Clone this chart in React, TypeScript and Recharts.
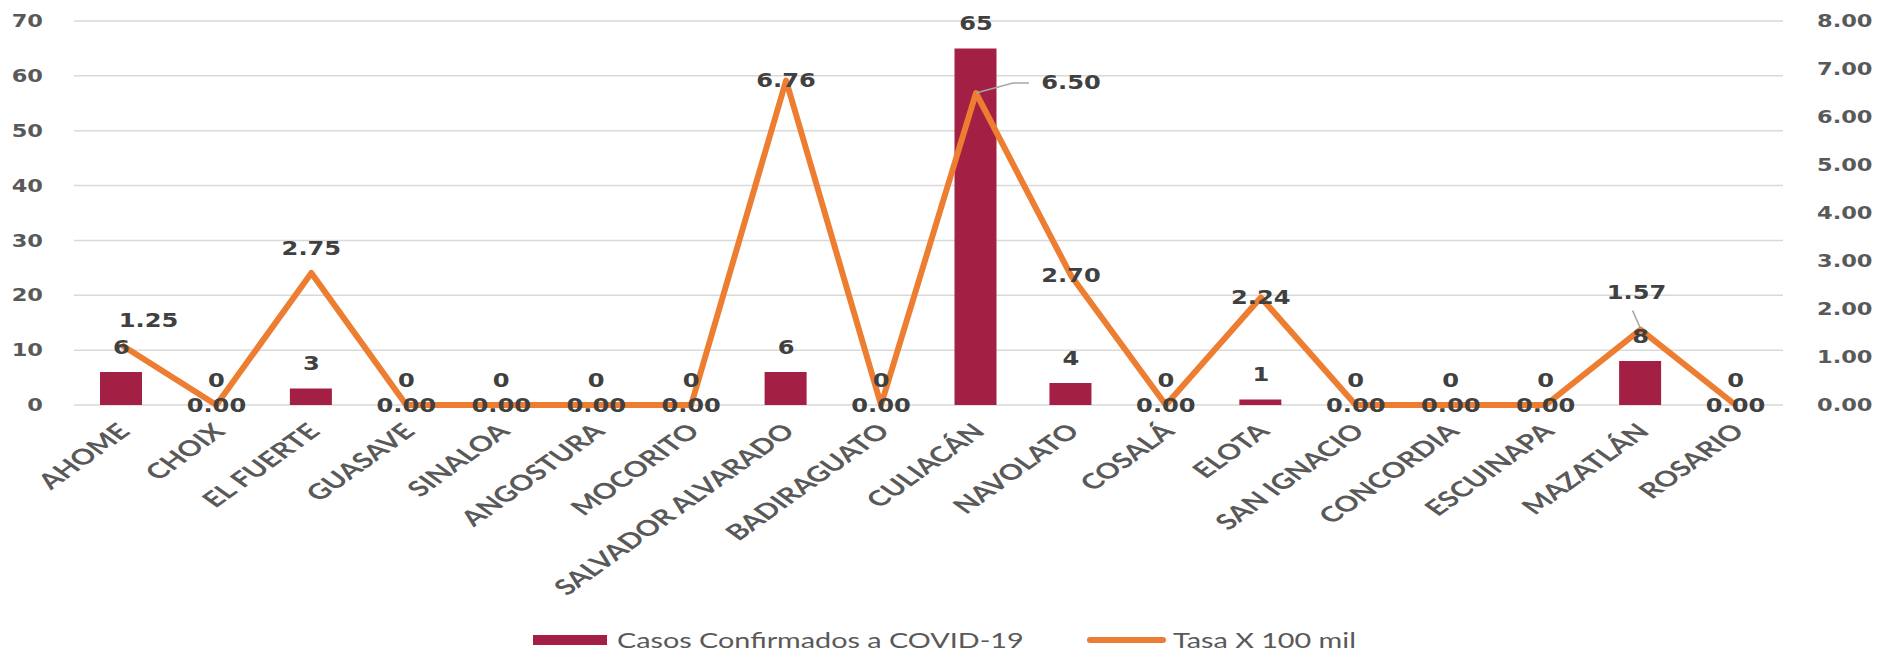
import { ComposedChart, Bar, Line, XAxis, YAxis, CartesianGrid, Legend, LabelList } from 'recharts';

const municipios = [
  'AHOME', 'CHOIX', 'EL FUERTE', 'GUASAVE', 'SINALOA', 'ANGOSTURA', 'MOCORITO',
  'SALVADOR ALVARADO', 'BADIRAGUATO', 'CULIACÁN', 'NAVOLATO', 'COSALÁ', 'ELOTA',
  'SAN IGNACIO', 'CONCORDIA', 'ESCUINAPA', 'MAZATLÁN', 'ROSARIO',
];
const casos = [6, 0, 3, 0, 0, 0, 0, 6, 0, 65, 4, 0, 1, 0, 0, 0, 8, 0];
const tasa = [1.25, 0, 2.75, 0, 0, 0, 0, 6.76, 0, 6.5, 2.7, 0, 2.24, 0, 0, 0, 1.57, 0];
const casosTicks = [0, 10, 20, 30, 40, 50, 60, 70];
const tasaTicks = [0, 1, 2, 3, 4, 5, 6, 7, 8];

const data = municipios.map((m, i) => ({ municipio: m, casos: casos[i], tasa: tasa[i] }));

const BAR = '#A32044';
const LINE = '#ED7D31';
const GRID = '#D9D9D9';
const LABEL = '#404040';
const AXIS = '#595959';
const BOLD = { fontFamily: '"DejaVu Sans", sans-serif', fontWeight: 700 };
const SX = 1.27; // the picture is stretched sideways

// manual label placement (like in the original spreadsheet)
const tasaShift: Record<number, { dx: number; dy: number; leader?: number[][] }> = {
  0: { dx: 27, dy: -25 },
  2: { dx: 0, dy: -25 },
  9: { dx: 95, dy: -11, leader: [[0, 0], [37, -10], [53, -10]] },
  16: { dx: -4, dy: -37, leader: [[0, -1], [-8, -19]] },
};

function Stretched({ x, y, sx, children, ...rest }: any) {
  return (
    <text transform={`translate(${x},${y}) scale(${sx},1)`} dominantBaseline="central" {...rest}>
      {children}
    </text>
  );
}

const LeftTick = ({ x, y, payload }: any) => (
  <Stretched x={x - 31} y={y} sx={1.25} textAnchor="end" fontSize={18} fill={AXIS} {...BOLD}>
    {payload.value}
  </Stretched>
);

const RightTick = ({ x, y, payload }: any) => (
  <Stretched x={x + 34} y={y} sx={1.25} textAnchor="start" fontSize={18} fill={AXIS} {...BOLD}>
    {Number(payload.value).toFixed(2)}
  </Stretched>
);

const MunicipioTick = ({ x, y, payload }: any) => (
  <g transform={`translate(${x + 2},${y + 22})`}>
    <text
      transform="scale(1.4,1) rotate(-45)"
      textAnchor="end"
      dominantBaseline="central"
      fontFamily="Lato, sans-serif"
      fontWeight={700}
      fontSize={21.5}
      fill={AXIS}
    >
      {payload.value}
    </text>
  </g>
);

// bar value labels ride on an invisible line so the zero bars get theirs too
const CasosLabel = ({ x, y, value }: any) => (
  <Stretched x={x} y={y - 25} sx={SX} textAnchor="middle" fontSize={19} fill={LABEL} {...BOLD}>
    {value}
  </Stretched>
);

const TasaLabel = ({ x, y, value, index }: any) => {
  const s = tasaShift[index] || { dx: 0, dy: 0 };
  return (
    <g>
      {s.leader && (
        <polyline
          points={s.leader.map(([a, b]) => `${x + a},${y + b}`).join(' ')}
          fill="none"
          stroke="#A6A6A6"
          strokeWidth={1.5}
        />
      )}
      <Stretched x={x + s.dx} y={y + s.dy} sx={SX} textAnchor="middle" fontSize={19} fill={LABEL} {...BOLD}>
        {Number(value).toFixed(2)}
      </Stretched>
    </g>
  );
};

const legendText = {
  position: 'absolute' as const,
  top: 0,
  fontFamily: 'Lato, sans-serif',
  fontSize: 21,
  lineHeight: '28px',
  color: AXIS,
  transform: 'scaleX(1.37)',
  transformOrigin: 'left center',
  whiteSpace: 'nowrap' as const,
};

const renderLegend = () => (
  <div style={{ position: 'relative', width: 1877, height: 28 }}>
    <span style={{ position: 'absolute', left: 533, top: 9, width: 74, height: 10, background: BAR }} />
    <span style={{ ...legendText, left: 617 }}>Casos Confirmados a COVID-19</span>
    <span style={{ position: 'absolute', left: 1087, top: 11, width: 79, height: 6, borderRadius: 3, background: LINE }} />
    <span style={{ ...legendText, left: 1173 }}>Tasa X 100 mil</span>
  </div>
);

export default function App() {
  return (
    <div style={{ position: 'absolute', left: 0, top: 0, background: '#fff' }}>
      <ComposedChart width={1877} height={654} data={data} margin={{ top: 21, right: 0, bottom: 0, left: 0 }}>
        <CartesianGrid yAxisId="casos" vertical={false} stroke={GRID} strokeWidth={1.5} />
        <XAxis
          dataKey="municipio"
          interval={0}
          height={249}
          axisLine={false}
          tickLine={false}
          tickSize={0}
          tickMargin={0}
          tick={<MunicipioTick />}
        />
        <YAxis
          yAxisId="casos"
          width={74}
          domain={[0, 70]}
          ticks={casosTicks}
          axisLine={false}
          tickLine={false}
          tickSize={0}
          tickMargin={0}
          tick={<LeftTick />}
        />
        <YAxis
          yAxisId="tasa"
          orientation="right"
          width={94}
          domain={[0, 8]}
          ticks={tasaTicks}
          axisLine={false}
          tickLine={false}
          tickSize={0}
          tickMargin={0}
          tick={<RightTick />}
        />
        <Legend verticalAlign="middle" content={renderLegend} wrapperStyle={{ top: 626, left: 0, width: 1877 }} />
        <Bar yAxisId="casos" dataKey="casos" name="Casos Confirmados a COVID-19" fill={BAR} barSize={42} isAnimationActive={false} />
        <Line
          yAxisId="casos"
          dataKey="casos"
          stroke="none"
          dot={false}
          activeDot={false}
          legendType="none"
          isAnimationActive={false}
        >
          <LabelList dataKey="casos" content={<CasosLabel />} />
        </Line>
        <Line
          yAxisId="tasa"
          dataKey="tasa"
          name="Tasa X 100 mil"
          type="linear"
          stroke={LINE}
          strokeWidth={6}
          strokeLinejoin="round"
          dot={false}
          activeDot={false}
          isAnimationActive={false}
        >
          <LabelList dataKey="tasa" content={<TasaLabel />} />
        </Line>
      </ComposedChart>
    </div>
  );
}
